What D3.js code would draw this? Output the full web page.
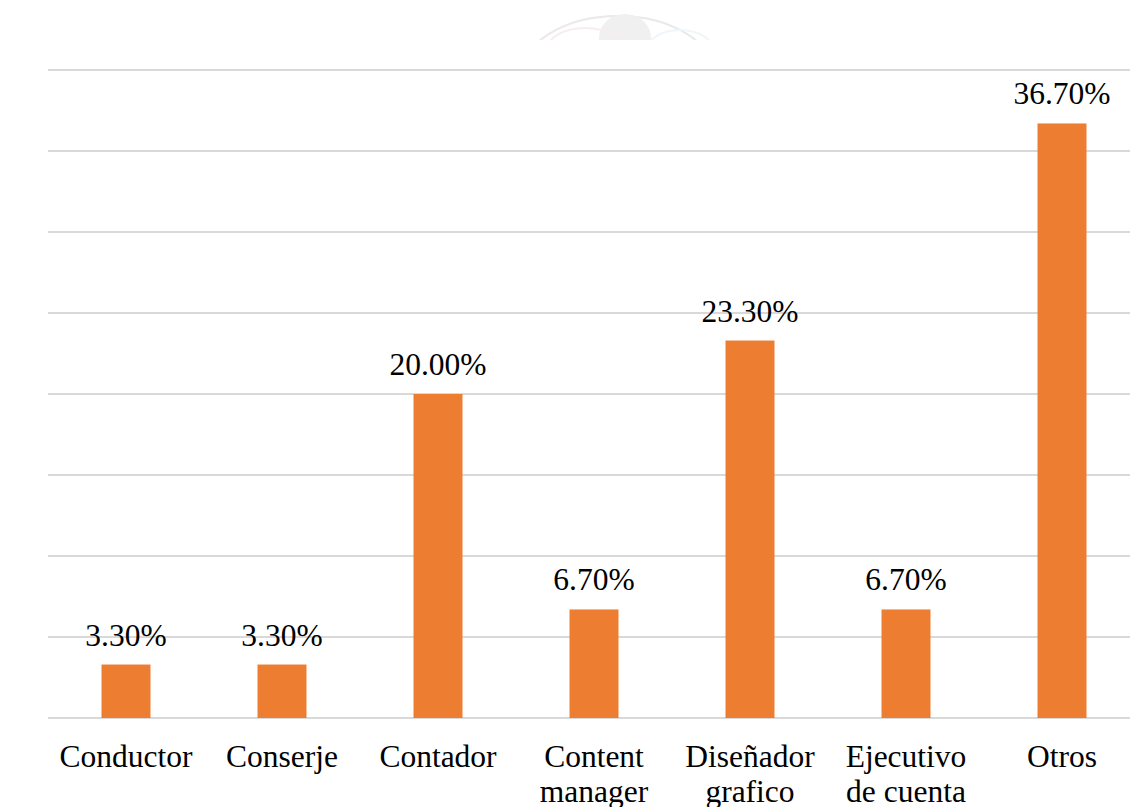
<!DOCTYPE html>
<html>
<head>
<meta charset="utf-8">
<script src="https://cdn.jsdelivr.net/npm/d3@7/dist/d3.min.js"></script>
<style>
  html, body { margin: 0; padding: 0; background: #ffffff; }
  svg { display: block; }
</style>
</head>
<body>
<svg id="chart" width="1130" height="807"></svg>
<script>
// Occupations (two-line labels split on "\n") and their shares in percent
const categories = ["Conductor", "Conserje", "Contador", "Content\nmanager", "Diseñador\ngrafico", "Ejecutivo\nde cuenta", "Otros"];
const values = [3.3, 3.3, 20.0, 6.7, 23.3, 6.7, 36.7];
const gridTicks = [0, 5, 10, 15, 20, 25, 30, 35, 40];

const FONT = "'Times New Roman', 'Liberation Serif', 'DejaVu Serif', serif";

const svg = d3.select("#chart");
const W = 1130, H = 807;
const margin = { left: 48, right: -10, top: 70, bottom: 89 };

const x = d3.scaleBand()
  .domain(categories)
  .range([margin.left, W - margin.right])
  .paddingInner(0.686)
  .paddingOuter(0.343);

const y = d3.scaleLinear()
  .domain([0, 40])
  .range([H - margin.bottom, margin.top]);

// faint seal partly visible above the plot
const seal = svg.append("g").attr("opacity", 0.3);
seal.append("clipPath").attr("id", "sealClip")
  .append("rect").attr("x", 500).attr("y", 0).attr("width", 240).attr("height", 40);
const sg = seal.append("g").attr("clip-path", "url(#sealClip)");
sg.append("ellipse").attr("cx", 618).attr("cy", 78).attr("rx", 98).attr("ry", 62)
  .attr("fill", "none").attr("stroke", "#b8b8b8").attr("stroke-width", 2);
sg.append("ellipse").attr("cx", 625).attr("cy", 38).attr("rx", 26).attr("ry", 24)
  .attr("fill", "#cfcfcf");
sg.append("ellipse").attr("cx", 585).attr("cy", 50).attr("rx", 38).attr("ry", 22)
  .attr("fill", "none").attr("stroke", "#e8c4cc").attr("stroke-width", 2);
sg.append("ellipse").attr("cx", 680).attr("cy", 52).attr("rx", 34).attr("ry", 22)
  .attr("fill", "none").attr("stroke", "#c4e4ec").attr("stroke-width", 2);

// horizontal gridlines (the 0 line doubles as the baseline)
svg.append("g")
  .selectAll("line")
  .data(gridTicks)
  .join("line")
  .attr("x1", margin.left)
  .attr("x2", W - margin.right)
  .attr("y1", d => Math.round(y(d)))
  .attr("y2", d => Math.round(y(d)))
  .attr("stroke", "#d9d9d9")
  .attr("stroke-width", 2);

// bars
svg.append("g")
  .selectAll("rect")
  .data(values)
  .join("rect")
  .attr("x", (d, i) => x(categories[i]))
  .attr("width", x.bandwidth())
  .attr("y", d => y(d))
  .attr("height", d => y(0) - y(d))
  .attr("fill", "#ED7D31");

// value labels
svg.append("g")
  .selectAll("text")
  .data(values)
  .join("text")
  .attr("x", (d, i) => x(categories[i]) + x.bandwidth() / 2)
  .attr("y", d => y(d) - 19)
  .attr("text-anchor", "middle")
  .attr("font-family", FONT)
  .attr("font-size", 31.5)
  .attr("fill", "#000")
  .text(d => d.toFixed(2) + "%");

// category axis labels
const xAxis = svg.append("g");
categories.forEach(c => {
  const t = xAxis.append("text")
    .attr("x", x(c) + x.bandwidth() / 2)
    .attr("y", 766.5)
    .attr("text-anchor", "middle")
    .attr("font-family", FONT)
    .attr("font-size", 31.5)
    .attr("fill", "#000");
  c.split("\n").forEach((line, k) => {
    t.append("tspan")
      .attr("x", x(c) + x.bandwidth() / 2)
      .attr("dy", k === 0 ? 0 : 35.5)
      .text(line);
  });
});
</script>
</body>
</html>
